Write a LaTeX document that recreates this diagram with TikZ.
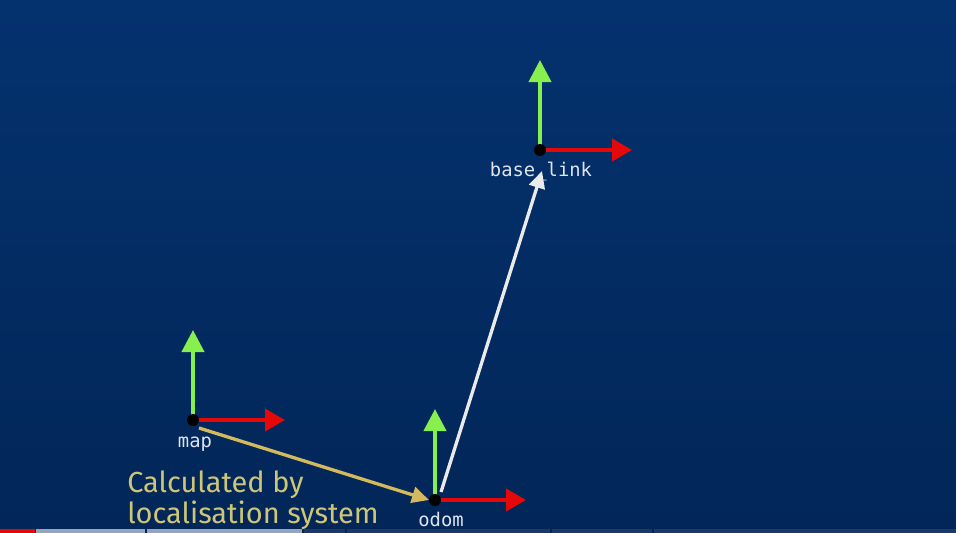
\documentclass[tikz,border=0pt]{standalone}
\usepackage{fontspec}
\setmainfont{Fira Sans}
\setmonofont{DejaVu Sans Mono}
\usetikzlibrary{arrows.meta,positioning}

\definecolor{bgtop}{RGB}{4,50,110}
\definecolor{bgbot}{RGB}{2,38,88}
\definecolor{axx}{RGB}{228,8,8}
\definecolor{axy}{RGB}{136,240,78}
\definecolor{khaki}{RGB}{206,198,118}
\definecolor{gold}{RGB}{212,186,92}
\definecolor{lbl}{RGB}{222,228,238}
\definecolor{barlit}{RGB}{150,165,190}
\definecolor{bardim}{RGB}{28,56,100}

\begin{document}
\begin{tikzpicture}[
  x=0.025cm, y=-0.025cm,
  org/.style={circle, fill=black, inner sep=0pt, minimum size=12*0.025cm},
  xax/.style={axx, line width=4*0.025cm, -{Triangle[length=20*0.025cm, width=22*0.025cm]}},
  yax/.style={axy, line width=4*0.025cm, -{Triangle[length=22*0.025cm, width=22*0.025cm]}},
  lab/.style={font=\ttfamily\fontsize{13.4}{15}\selectfont, text=lbl, inner sep=0pt},
  tf/.style={line width=3.3*0.025cm, -{Triangle[length=17*0.025cm, width=16*0.025cm]}},
  note/.style={font=\fontsize{20.6}{22}\selectfont, text=khaki, align=left, inner sep=0pt}
]
\useasboundingbox (0,0) rectangle (956,533);
\shade[top color=bgtop, bottom color=bgbot] (0,0) rectangle (956,533);

% progress bar
\fill[axx] (0,529) rectangle (35,533);
\fill[barlit] (36,529) rectangle (145,533);
\fill[barlit] (147,529) rectangle (302,533);
\fill[bardim] (304,529) rectangle (345,533);
\fill[bardim] (347,529) rectangle (550,533);
\fill[bardim] (552,529) rectangle (652,533);
\fill[bardim] (654,529) rectangle (956,533);

% frames
\coordinate (map) at (193,420);
\coordinate (odom) at (435,500);
\coordinate (base) at (540,150);

\coordinate (mapx) at (285,420);
\coordinate (mapy) at (193,330);
\coordinate (odomx) at (526,500);
\coordinate (odomy) at (435,409);
\coordinate (basex) at (632,150);
\coordinate (basey) at (540,60);

\draw[xax] (map) -- (mapx);
\draw[yax] (map) -- (mapy);
\draw[xax] (odom) -- (odomx);
\draw[yax] (odom) -- (odomy);
\draw[xax] (base) -- (basex);
\draw[yax] (base) -- (basey);

\node[org] (mapo) at (map) {};
\node[org] (odomo) at (odom) {};
\node[org] (baseo) at (base) {};

\node[lab, anchor=base] (maplab) at (195,447) {map};
\node[lab, anchor=base] (odomlab) at (441,526) {odom};
\node[lab, anchor=base] (baselab) at (541,176) {base\_link};

% transforms
\coordinate (mapt) at (199,428);
\coordinate (odomt) at (429,500);
\coordinate (odoms) at (441,492);
\coordinate (baset) at (542,171);
\draw[tf, gold] (mapt) -- (odomt);
\draw[tf, white!92!black] (odoms) -- (baset);

\node[note, anchor=base west] (calc) at (127,523) {Calculated by\\localisation system};
\end{tikzpicture}
\end{document}
